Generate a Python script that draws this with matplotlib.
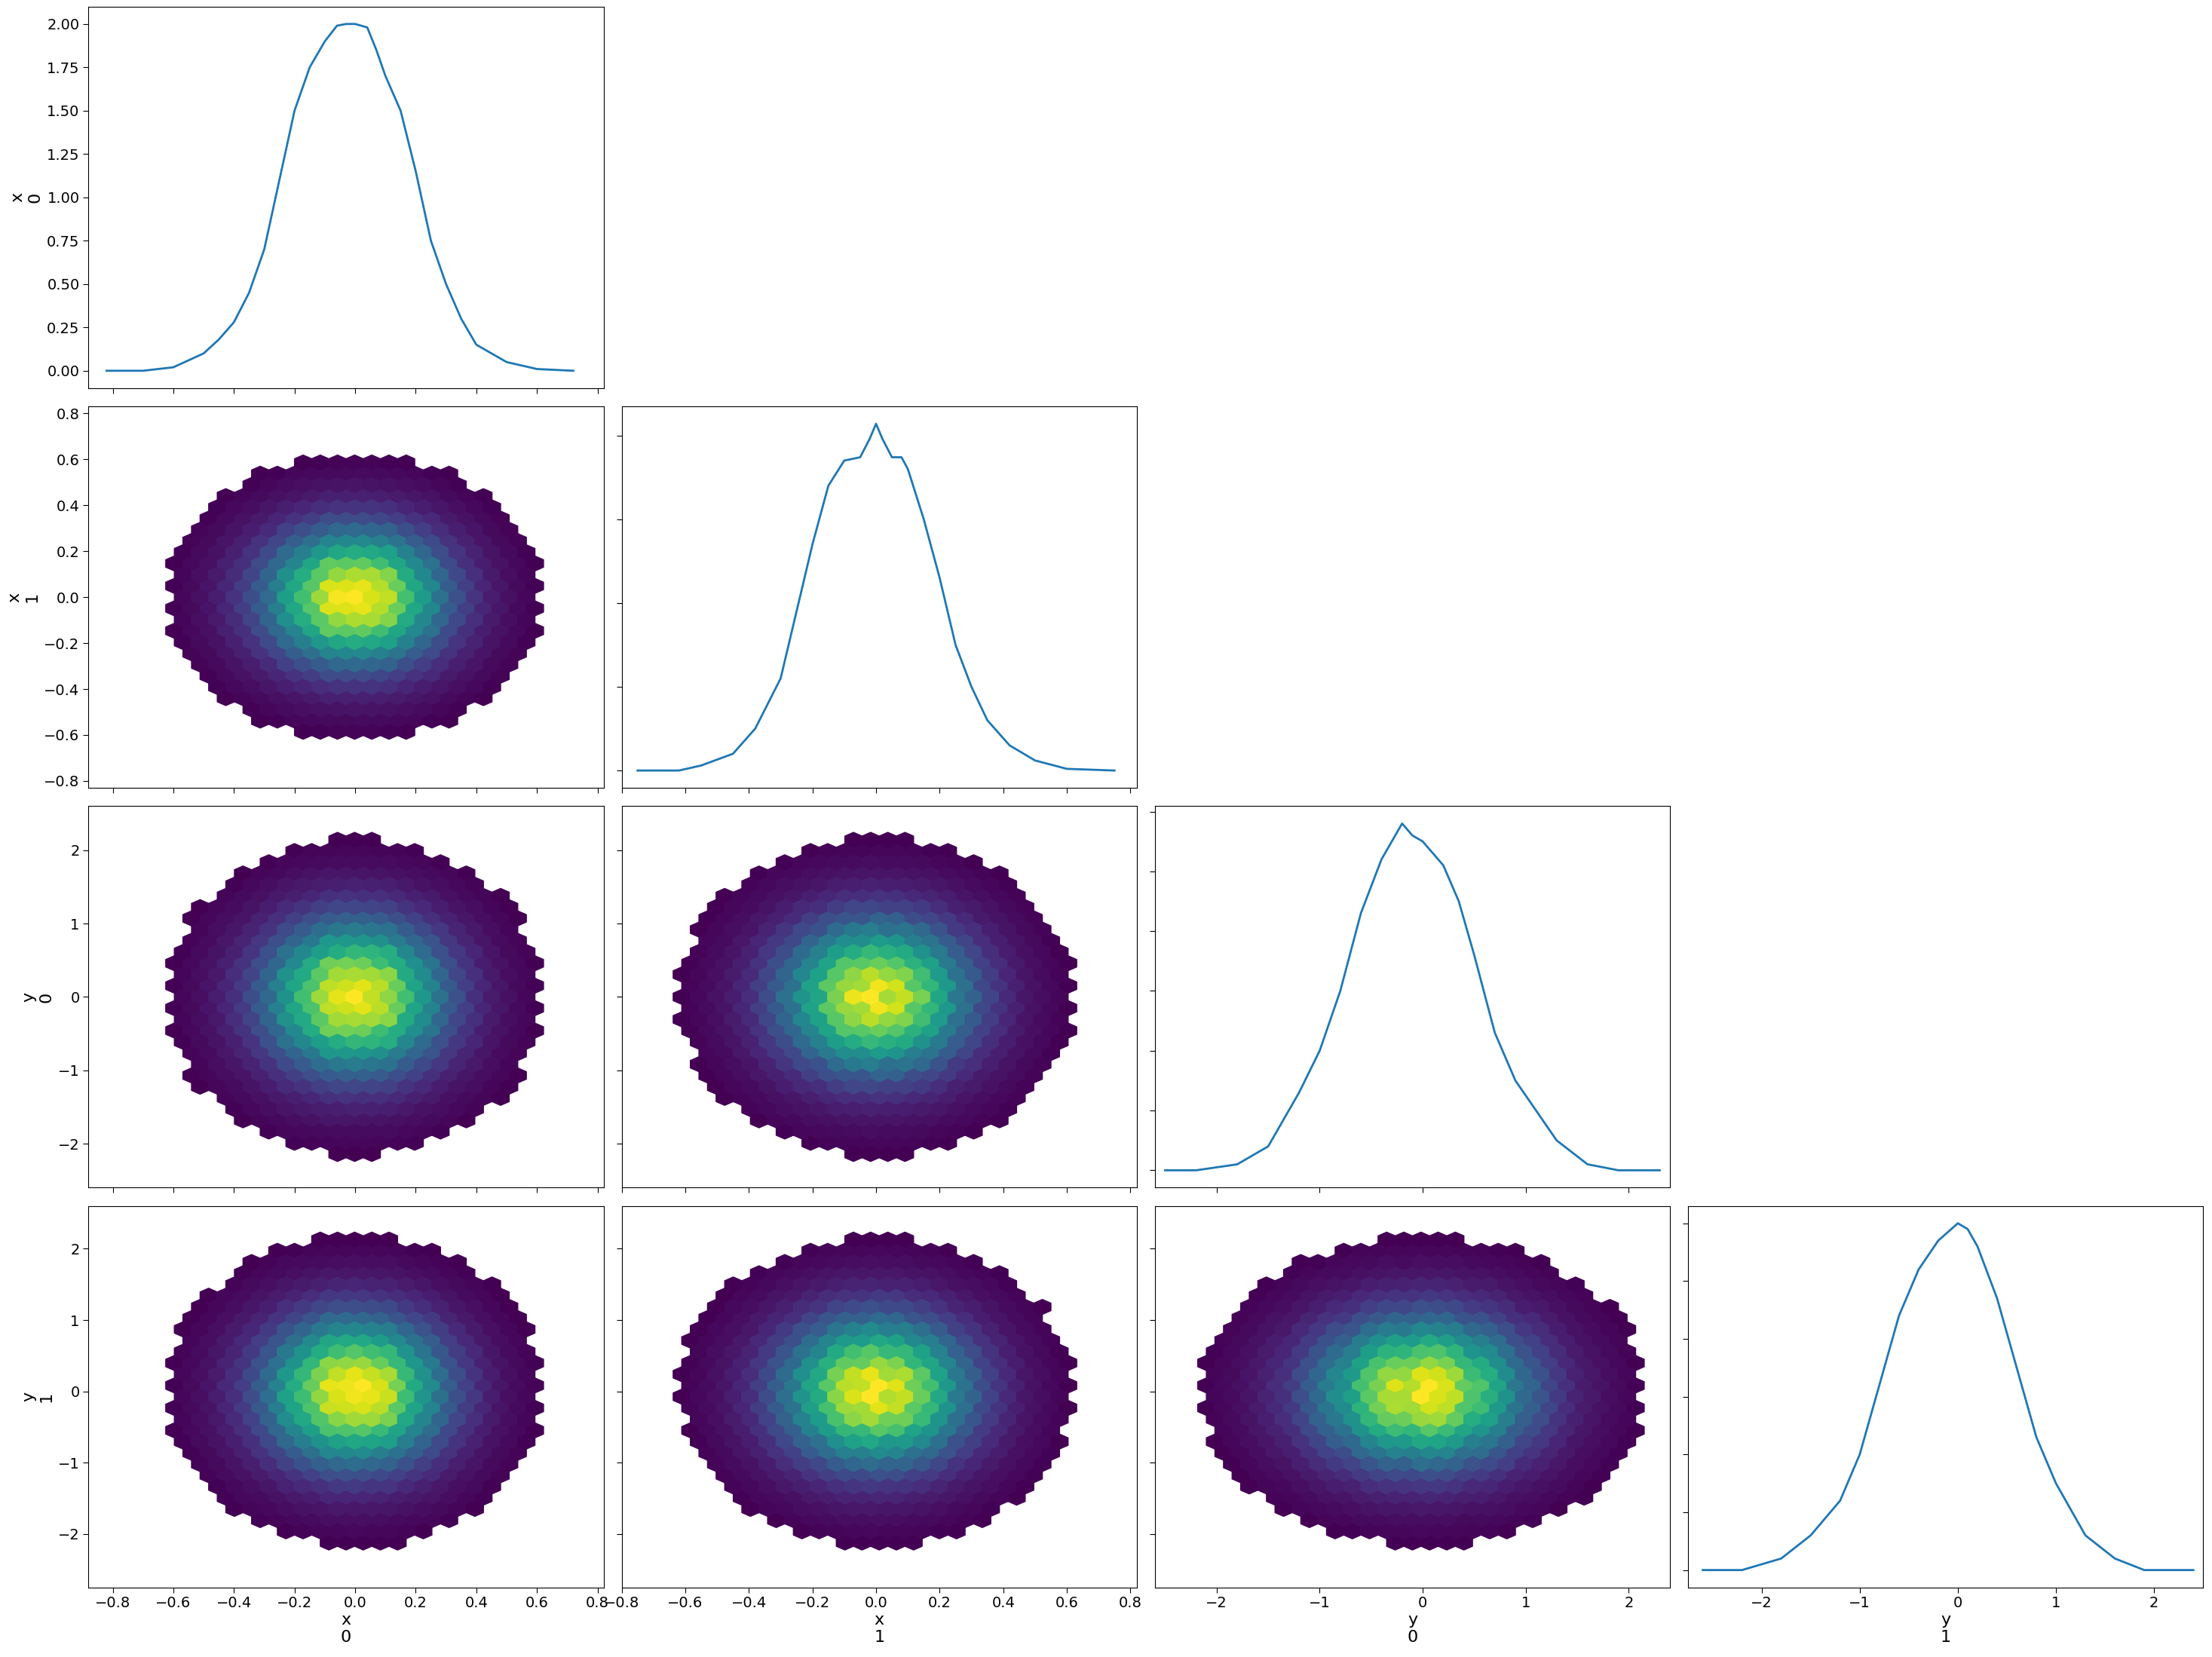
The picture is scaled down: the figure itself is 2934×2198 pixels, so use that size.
import numpy as np
import matplotlib
matplotlib.use("Agg")
import matplotlib.pyplot as plt

names = ["x\n0", "x\n1", "y\n0", "y\n1"]
means = [0.0, 0.0, 0.0, 0.0]
stds = [0.2, 0.2, 0.7, 0.7]
xlims = [(-0.88, 0.82), (-0.8, 0.82), (-2.6, 2.4), (-2.75, 2.5)]
ylims = [None, (-0.83, 0.83), (-2.6, 2.6), (-2.75, 2.6)]

# marginal density curves
kde_x0_x = [-0.82, -0.7, -0.6, -0.5, -0.45, -0.4, -0.35, -0.3, -0.25, -0.2, -0.15, -0.1, -0.06, -0.03, 0.0, 0.04, 0.07, 0.1, 0.15, 0.2, 0.25, 0.3, 0.35, 0.4, 0.5, 0.6, 0.72]
kde_x0_y = [0.0, 0.0, 0.02, 0.1, 0.18, 0.28, 0.45, 0.7, 1.1, 1.5, 1.75, 1.9, 1.99, 2.0, 2.0, 1.98, 1.85, 1.7, 1.5, 1.15, 0.75, 0.5, 0.3, 0.15, 0.05, 0.01, 0.0]
kde_x1_x = [-0.75, -0.62, -0.55, -0.45, -0.38, -0.3, -0.25, -0.2, -0.15, -0.1, -0.05, -0.02, 0.0, 0.02, 0.05, 0.08, 0.1, 0.15, 0.2, 0.25, 0.3, 0.35, 0.42, 0.5, 0.6, 0.75]
kde_x1_y = [0.0, 0.0, 0.03, 0.1, 0.25, 0.55, 0.95, 1.35, 1.7, 1.85, 1.87, 1.98, 2.07, 1.98, 1.87, 1.87, 1.8, 1.5, 1.15, 0.75, 0.5, 0.3, 0.15, 0.06, 0.01, 0.0]
kde_y0_x = [-2.5, -2.2, -1.8, -1.5, -1.2, -1.0, -0.8, -0.6, -0.4, -0.2, -0.1, 0.0, 0.1, 0.2, 0.35, 0.5, 0.7, 0.9, 1.1, 1.3, 1.6, 1.9, 2.3]
kde_y0_y = [0.0, 0.0, 0.01, 0.04, 0.13, 0.2, 0.3, 0.43, 0.52, 0.58, 0.56, 0.55, 0.53, 0.51, 0.45, 0.36, 0.23, 0.15, 0.1, 0.05, 0.01, 0.0, 0.0]
kde_y1_x = [-2.6, -2.2, -1.8, -1.5, -1.2, -1.0, -0.8, -0.6, -0.4, -0.2, 0.0, 0.1, 0.2, 0.4, 0.6, 0.8, 1.0, 1.3, 1.6, 1.9, 2.4]
kde_y1_y = [0.0, 0.0, 0.02, 0.06, 0.12, 0.2, 0.32, 0.44, 0.52, 0.57, 0.6, 0.59, 0.56, 0.47, 0.35, 0.23, 0.15, 0.06, 0.02, 0.0, 0.0]
kdes = [(kde_x0_x, kde_x0_y), (kde_x1_x, kde_x1_y), (kde_y0_x, kde_y0_y), (kde_y1_x, kde_y1_y)]

plt.rcParams['font.size'] = 15
fig, axes = plt.subplots(4, 4, figsize=(29.34, 21.98), dpi=100)
fig.subplots_adjust(left=0.04, right=0.996, top=0.996, bottom=0.042, wspace=0.035, hspace=0.048)

for i in range(4):
    for j in range(4):
        ax = axes[i, j]
        if j > i:
            ax.axis("off")
            continue
        ax.set_xlim(*xlims[j])
        if i == j:
            ax.plot(kdes[i][0], kdes[i][1], color="C0", lw=2)
            if i > 0:
                ax.set_yticklabels([])
        else:
            gx = np.linspace(means[j] - 4 * stds[j], means[j] + 4 * stds[j], 260)
            gy = np.linspace(means[i] - 4 * stds[i], means[i] + 4 * stds[i], 260)
            X, Y = np.meshgrid(gx, gy)
            d = np.exp(-0.5 * (((X - means[j]) / stds[j]) ** 2 + ((Y - means[i]) / stds[i]) ** 2))
            m = d > 0.012
            ax.hexbin(X[m], Y[m], C=d[m], reduce_C_function=np.sum, gridsize=30,
                      cmap="viridis", extent=(*xlims[j], *ylims[i]))
            ax.set_ylim(*ylims[i])
            if j > 0:
                ax.set_yticklabels([])
        if j == 0:
            ax.set_ylabel(names[i], fontsize=16)
        if i == 3:
            ax.set_xlabel(names[j], fontsize=16, labelpad=2)
        else:
            ax.set_xticklabels([])
        ax.tick_params(labelsize=14, length=5)

ticks = np.arange(-0.8, 0.81, 0.2)
labels = [f"{v:.1f}".replace("-", "\u2212") for v in ticks]
labels = ["0.0" if l == "\u22120.0" else l for l in labels]
for j in range(2):
    for i in range(j, 4):
        axes[i, j].set_xticks(ticks)
        axes[i, j].set_xticklabels(labels if i == 3 else [])
axes[0, 0].set_yticks(np.arange(0, 2.01, 0.25))
axes[0, 0].set_yticklabels([f"{v:.2f}" for v in np.arange(0, 2.01, 0.25)])

fig.savefig("out.png", dpi=100)
